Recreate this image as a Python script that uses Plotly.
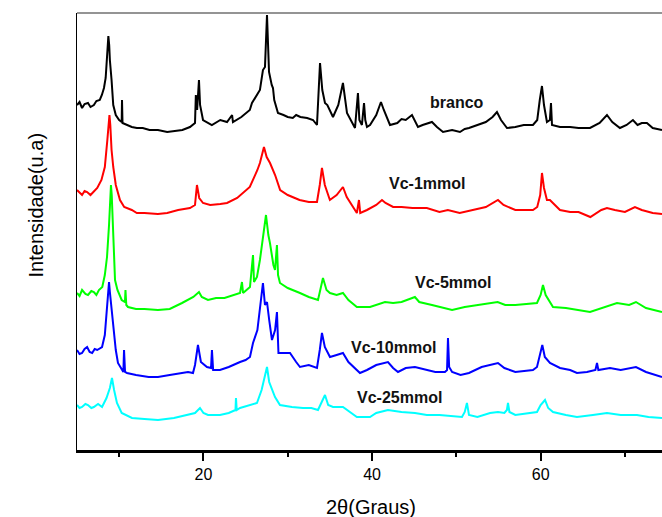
import plotly.graph_objects as go

# ---- data (2theta in degrees, intensity in arbitrary units) ----
branco_x = [5.0, 5.3, 5.6, 5.9, 6.3, 6.6, 7.0, 7.3, 7.7, 7.95, 8.2, 8.4, 8.5, 8.62, 8.72, 8.82, 8.9, 9.1, 9.3, 9.6,
            10.0, 10.3, 10.34, 10.4, 11.0, 11.5, 12.1, 12.8, 13.6, 14.6, 15.7, 16.5, 17.5, 18.4, 19.0, 19.1, 19.25,
            19.47, 19.6, 19.95, 20.5, 21.0, 22.0, 22.8, 23.4, 23.5, 24.5, 25.5, 25.76, 26.0, 26.4, 26.7, 27.06, 27.3,
            27.54, 27.78, 28.1, 28.25, 28.4, 28.84, 29.5, 30.0, 30.6, 31.0, 31.5, 32.3, 33.0, 33.47, 33.83, 34.1,
            34.42, 34.7, 35.37, 36.0, 36.55, 36.9, 37.03, 37.98, 38.2, 38.33, 38.5, 38.8, 39.05, 39.2, 39.4, 39.76,
            40.5, 41.06, 41.4, 42.13, 43.0, 43.5, 44.0, 44.74, 45.45, 46.0, 47.11, 47.7, 48.42, 49.5, 50.43, 51.0,
            51.5, 52.57, 53.5, 54.3, 54.82, 55.3, 56.01, 57.0, 58.0, 59.09, 59.6, 59.9, 60.16, 60.4, 60.75, 61.1,
            61.23, 61.35, 62.3, 63.5, 64.5, 65.86, 67.0, 67.87, 68.5, 69.41, 70.2, 70.95, 71.5, 72.0, 72.61, 73.3,
            74.16, 74.4]
branco_y = [345, 348, 342, 346, 347, 343, 345, 349, 350, 355, 362, 372, 385, 400, 414, 405, 390, 370, 345, 335,
            330, 328, 350, 327, 325, 323, 322, 322, 320, 320, 318, 319, 320, 323, 327, 355, 340,
            370, 345, 330, 327, 325, 330, 328, 335, 328, 333, 340, 347, 350, 355, 360, 380, 383,
            435, 378, 365, 362, 350, 337, 335, 333, 332, 335, 333, 332, 330, 325, 387, 360,
            347, 345, 333, 345, 367, 345, 337, 322, 340, 357, 330, 325, 347, 330, 323, 325,
            335, 348, 340, 325, 327, 331, 330, 335, 323, 325, 328, 323, 318, 320, 318, 321,
            322, 325, 328, 333, 338, 330, 322, 323, 325, 325, 330, 350, 364, 345, 328, 330,
            347, 325, 323, 323, 322, 322, 327, 335, 328, 322, 325, 330, 325, 327, 327, 322,
            320, 320]

vc1_x = [5.0, 5.3, 5.6, 5.9, 6.2, 6.6, 7.0, 7.4, 7.9, 8.3, 8.6, 8.75, 8.85, 8.95, 9.1, 9.3, 9.6, 10.1, 10.6, 11.5,
         12.1, 13.0, 14.6, 15.7, 17.0, 18.4, 19.0, 19.23, 19.5, 19.95, 20.8, 22.0, 22.8, 24.0, 25.5, 26.4, 26.7,
         27.0, 27.18, 27.5, 27.9, 28.5, 29.1, 30.0, 31.4, 32.5, 33.47, 33.8, 34.06, 34.4, 35.0, 35.8, 36.55, 37.0,
         38.0, 38.2, 38.45, 38.6, 39.4, 40.5, 41.18, 41.6, 42.5, 43.5, 44.8, 46.5, 48.0, 49.0, 50.4, 52.0, 53.5,
         54.94, 55.6, 57.0, 59.09, 59.6, 59.95, 60.16, 60.4, 60.75, 61.1, 62.3, 63.5, 64.5, 65.9, 67.2, 67.87,
         68.8, 70.0, 71.19, 72.0, 73.3, 74.4]
vc1_y = [260, 257, 255, 259, 258, 255, 258, 262, 270, 283, 310, 325, 335, 325, 300, 283, 265, 250, 243, 240,
         237, 237, 236, 237, 240, 242, 245, 265, 252, 247, 245, 246, 247, 252, 263, 280, 287,
         297, 303, 293, 287, 275, 260, 255, 250, 248, 248, 265, 282, 265, 250, 255, 263, 253,
         240, 237, 250, 237, 240, 245, 250, 247, 243, 243, 242, 242, 238, 240, 237, 240, 243,
         250, 245, 240, 240, 243, 255, 277, 262, 250, 250, 240, 238, 238, 233, 240, 242,
         240, 238, 243, 240, 237, 236]

vc5_x = [5.0, 5.3, 5.6, 6.0, 6.3, 6.7, 7.0, 7.3, 7.6, 8.0, 8.3, 8.56, 8.8, 8.95, 9.03, 9.12, 9.2, 9.4, 9.51, 9.8,
         10.3, 10.69, 10.75, 10.85, 11.05, 12.0, 13.0, 14.6, 16.0, 17.46, 18.2, 18.8, 19.47, 19.8, 20.54, 21.5,
         22.5, 23.5, 24.34, 24.57, 24.7, 25.52, 25.88, 26.0, 26.35, 26.7, 26.95, 27.2, 27.42, 27.7, 27.89, 28.3,
         28.49, 28.72, 28.85, 29.08, 30.0, 31.45, 32.5, 33.59, 34.18, 34.6, 35.01, 35.8, 36.55, 37.2, 38.2,
         39.76, 40.5, 41.54, 42.5, 43.5, 45.09, 45.6, 47.11, 48.0, 49.5, 51.0, 52.5, 54.9, 55.8, 57.0, 59.57,
         60.0, 60.28, 60.6, 61.47, 63.0, 65.86, 67.5, 69.06, 70.5, 71.31, 72.5, 74.4]
vc5_y = [157, 154, 160, 156, 155, 159, 158, 155, 160, 163, 175, 193, 225, 255, 265, 255, 235, 185, 170, 160,
         150, 148, 160, 145, 143, 141, 141, 140, 141, 147, 150, 153, 158, 153, 150, 152,
         152, 155, 157, 168, 157, 163, 195, 168, 173, 190, 207, 225, 235, 215, 207, 185,
         180, 205, 175, 167, 162, 157, 153, 150, 172, 160, 157, 155, 157, 150, 143,
         143, 145, 148, 147, 148, 153, 148, 145, 143, 140, 143, 145, 148, 145, 145, 147,
         155, 165, 155, 143, 142, 138, 143, 147, 145, 148, 142, 138]

vc10_x = [5.0, 5.3, 5.6, 5.9, 6.2, 6.5, 6.8, 7.1, 7.4, 7.97, 8.3, 8.56, 8.7, 8.8, 8.9, 9.05, 9.27, 9.6, 9.86,
          10.3, 10.5, 10.58, 10.7, 10.93, 12.0, 13.5, 14.61, 16.0, 17.5, 18.17, 18.76, 19.0, 19.35, 19.7, 20.42,
          20.9, 21.01, 21.15, 21.96, 23.0, 24.34, 25.0, 25.52, 25.88, 26.4, 26.71, 27.06, 27.3, 27.54, 27.8,
          28.13, 28.5, 28.72, 28.9, 29.5, 30.27, 31.0, 31.45, 32.5, 33.47, 33.8, 34.06, 34.4, 35.01, 35.8, 36.55,
          37.2, 38.57, 39.4, 40.5, 41.89, 42.5, 43.08, 44.0, 45.09, 46.5, 47.5, 48.65, 48.9, 49.01, 49.15, 49.5,
          50.5, 51.5, 53.0, 54.94, 55.7, 57.0, 59.09, 59.57, 59.95, 60.2, 60.5, 61.11, 62.3, 63.5, 64.31, 65.5,
          66.5, 66.69, 66.85, 68.23, 69.5, 71.31, 72.5, 74.4]
vc10_y = [100, 96, 97, 101, 103, 98, 97, 101, 100, 103, 115, 140, 160, 168, 158, 145, 125, 100, 87,
          80, 78, 100, 78, 77, 75, 73, 73, 75, 77, 78, 77, 85, 105, 88, 83,
          82, 100, 80, 80, 83, 88, 90, 93, 107, 120, 140, 167, 145, 148, 130,
          110, 120, 138, 97, 97, 97, 88, 83, 85, 82, 100, 117, 103, 93, 95, 97,
          88, 77, 80, 85, 88, 82, 78, 82, 83, 80, 78, 78, 80, 112, 83, 78,
          75, 77, 83, 87, 82, 78, 80, 83, 95, 105, 93, 87, 82, 80, 77, 78,
          80, 87, 80, 82, 80, 83, 78, 73]

vc25_x = [5.0, 5.3, 5.6, 6.0, 6.3, 6.7, 7.0, 7.5, 7.97, 8.5, 8.9, 9.15, 9.4, 9.74, 10.3, 11.52, 13.0, 14.61, 16.5,
          18.17, 19.0, 19.59, 20.0, 20.54, 21.96, 23.0, 23.8, 23.86, 23.95, 24.34, 25.5, 26.35, 26.9, 27.3,
          27.54, 27.8, 28.3, 28.49, 29.08, 30.5, 31.81, 32.8, 33.59, 34.0, 34.42, 34.8, 35.37, 36.55, 37.5,
          38.2, 39.76, 40.5, 41.89, 43.5, 45.09, 46.5, 48.0, 50.67, 51.0, 51.26, 51.5, 52.5, 54.0, 54.94, 55.7,
          56.0, 56.13, 56.3, 57.0, 59.09, 59.57, 60.0, 60.52, 60.9, 61.47, 63.0, 64.31, 66.2, 67.87, 69.5, 71.43,
          72.8, 74.4]
vc25_y = [45, 42, 43, 46, 45, 42, 43, 46, 43, 52, 62, 72, 60, 47, 37, 32, 31, 30, 32,
          35, 37, 42, 37, 35, 35, 37, 40, 52, 40, 42, 45, 47, 60, 75,
          83, 68, 57, 53, 45, 43, 42, 42, 40, 47, 55, 45, 43, 43, 37,
          33, 33, 37, 40, 38, 37, 35, 35, 33, 38, 47, 35, 33, 37, 38, 37,
          40, 47, 38, 35, 37, 38, 45, 50, 42, 38, 35, 33, 35, 37, 35, 35,
          33, 32]

series_names = ["branco", "Vc-1mmol", "Vc-5mmol", "Vc-10mmol", "Vc-25mmol"]
series_colors = ["#000000", "#FF0000", "#00FF00", "#0000FF", "#00FFFF"]
x_ticks = [20, 40, 60]
x_tick_labels = ["20", "40", "60"]

all_x = [branco_x, vc1_x, vc5_x, vc10_x, vc25_x]
all_y = [branco_y, vc1_y, vc5_y, vc10_y, vc25_y]

fig = go.Figure()
for name, color, xs, ys in zip(series_names, series_colors, all_x, all_y):
    fig.add_trace(go.Scatter(x=xs, y=ys, mode="lines", name=name,
                             line=dict(color=color, width=2), showlegend=False))

# in-plot labels (data coords)
label_pos = [(50.1, 348), (46.5, 267), (49.6, 168), (42.5, 103), (43.2, 53)]
for name, (lx, ly) in zip(series_names, label_pos):
    fig.add_annotation(x=lx, y=ly, text="<b>%s</b>" % name, showarrow=False,
                       font=dict(family="Liberation Sans, Arial", size=16, color="#111111"),
                       xanchor="center", yanchor="middle")

# axis titles
fig.add_annotation(xref="paper", yref="paper", x=-0.092, y=0.56, text="Intensidade(u.a)",
                   textangle=-90, showarrow=False,
                   font=dict(family="Liberation Sans, Arial", size=20, color="#000000"))
fig.add_annotation(xref="paper", yref="paper", x=0.503, y=-0.13, text="2θ(Graus)",
                   showarrow=False, yanchor="middle",
                   font=dict(family="Liberation Sans, Arial", size=20, color="#000000"))

# top frame line
fig.add_shape(type="line", xref="paper", yref="paper", x0=0, x1=1, y0=1, y1=1,
              line=dict(color="#707070", width=1.5))

fig.update_layout(
    width=662, height=517,
    margin=dict(l=77, r=0, t=13, b=67),
    paper_bgcolor="white", plot_bgcolor="white",
    xaxis=dict(range=[5, 74.4], tickvals=x_ticks, ticktext=x_tick_labels,
               ticks="outside", ticklen=8, tickwidth=2, tickcolor="black",
               showline=True, linecolor="black", linewidth=3, showgrid=False, zeroline=False,
               tickfont=dict(family="Liberation Sans, Arial", size=16, color="black"),
               minor=dict(tickvals=[10, 30, 50, 70], ticks="outside", ticklen=4, tickwidth=2,
                          tickcolor="black", showgrid=False)),
    yaxis=dict(range=[0, 437], showticklabels=False, ticks="", showline=True,
               linecolor="black", linewidth=1, showgrid=False, zeroline=False),
)

fig.write_html("out.html", config={"displayModeBar": False},
               post_script="document.body.style.margin='0';document.body.style.overflow='hidden';")
